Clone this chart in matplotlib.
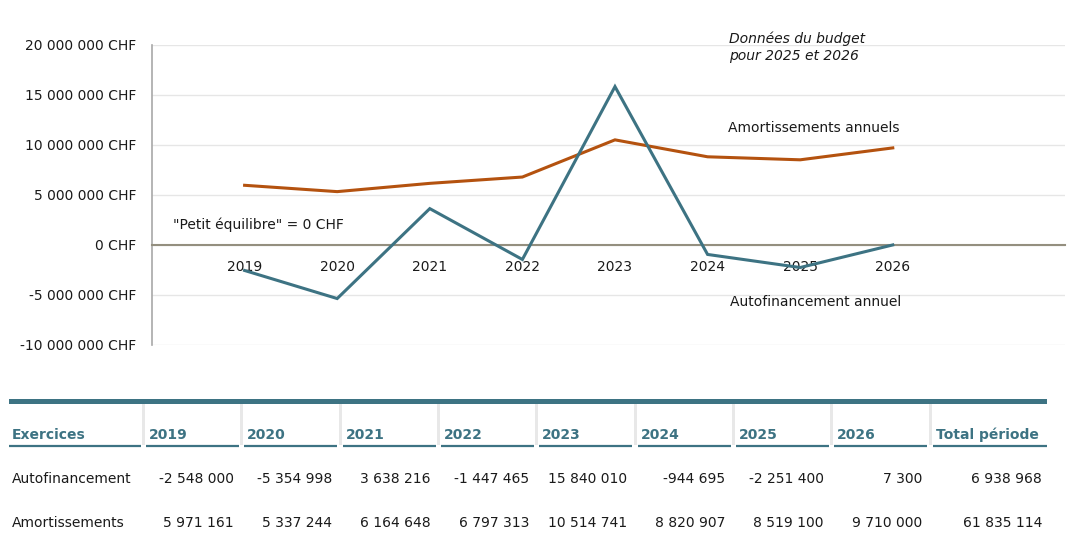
import matplotlib
matplotlib.use("Agg")
import matplotlib.pyplot as plt
from matplotlib.ticker import MultipleLocator, FuncFormatter
from matplotlib.patches import Rectangle

plt.rcParams['font.family'] = ['DejaVu Sans']

years = ["2019", "2020", "2021", "2022", "2023", "2024", "2025", "2026"]
autofinancement = [-2548000, -5354998, 3638216, -1447465, 15840010, -944695, -2251400, 7300]
amortissements = [5971161, 5337244, 6164648, 6797313, 10514741, 8820907, 8519100, 9710000]
row_labels = ["Autofinancement", "Amortissements"]
header_first = "Exercices"
header_total = "Total période"

TEAL = "#3d7383"
ORANGE = "#b4520f"
TXT = "#1a1a1a"

W, H = 1078, 549
fig = plt.figure(figsize=(W / 100, H / 100), dpi=100)

# ---- chart ----
ax = fig.add_axes([152 / W, 1 - 345 / H, (1065 - 152) / W, 300 / H])
x = list(range(len(years)))
ax.plot(x, amortissements, color=ORANGE, lw=2.2, solid_joinstyle='miter', zorder=3)
ax.plot(x, autofinancement, color=TEAL, lw=2.2, solid_joinstyle='miter', zorder=3)
ax.set_ylim(-10_000_000, 20_000_000)
ax.set_xlim(-1, 8.86)
ax.yaxis.set_major_locator(MultipleLocator(5_000_000))


def fmt_chf(v, pos=None):
    s = f"{int(round(v)):,}".replace(",", " ")
    return f"{s} CHF"


ax.yaxis.set_major_formatter(FuncFormatter(fmt_chf))
ax.grid(axis='y', color='#e6e6e6', lw=1.0, zorder=0)
ax.set_axisbelow(True)
for s in ['top', 'right']:
    ax.spines[s].set_visible(False)
ax.spines['left'].set_color('#a8a8a8')
ax.spines['left'].set_linewidth(1.2)
ax.spines['bottom'].set_position(('data', 0))
ax.spines['bottom'].set_color('#948f7f')
ax.spines['bottom'].set_linewidth(1.5)
ax.set_xticks(x)
ax.set_xticklabels(years)
ax.tick_params(axis='x', length=0, pad=10.5, labelsize=10, labelcolor=TXT)
ax.tick_params(axis='y', length=0, pad=11, labelsize=10, labelcolor=TXT)

fig.text(173 / W, 1 - 225 / H, '"Petit équilibre" = 0 CHF', fontsize=10, color=TXT, va='center', ha='left')
fig.text(728 / W, 1 - 128 / H, 'Amortissements annuels', fontsize=10, color=TXT, va='center', ha='left')
fig.text(730 / W, 1 - 302 / H, 'Autofinancement annuel', fontsize=10, color=TXT, va='center', ha='left')
fig.text(729 / W, 1 - 47 / H, 'Données du budget\npour 2025 et 2026', fontsize=10, style='italic',
         color=TXT, va='center', ha='left', linespacing=1.3)

# ---- table ----
tx = fig.add_axes([0, 0, 1, 1])
tx.set_xlim(0, W)
tx.set_ylim(H, 0)
tx.axis('off')

tx.add_patch(Rectangle((9, 398.5), 1038, 5, color=TEAL, lw=0))

col_left = [9] + [146 + 98.3 * i for i in range(len(years))] + [933]
col_right = [141] + [146 + 98.3 * i + 93 for i in range(len(years))] + [1047]
headers = [header_first] + years + [header_total]

for i in range(len(headers)):
    l, r = col_left[i], col_right[i]
    tx.plot([l, r], [445.5, 445.5], color=TEAL, lw=1.6, solid_capstyle='butt')
    tx.text(l + 3, 435, headers[i], color=TEAL, fontsize=10, fontweight='bold', va='center', ha='left')
    if i > 0:
        tx.add_patch(Rectangle((l - 4, 404), 3, 41, color='#e8e8e8', lw=0))

rows = [autofinancement, amortissements]
row_y = [479, 523]


def fmt_num(v):
    return f"{int(v):,}".replace(",", " ")


for ri, (lab, vals) in enumerate(zip(row_labels, rows)):
    y = row_y[ri]
    tx.text(12, y, lab, fontsize=10, color=TXT, va='center', ha='left')
    allv = list(vals) + [sum(vals)]
    for j, v in enumerate(allv):
        tx.text(col_right[j + 1] - 5, y, fmt_num(v), fontsize=10, color=TXT, va='center', ha='right')

fig.savefig("out.png", dpi=100, facecolor='white')
